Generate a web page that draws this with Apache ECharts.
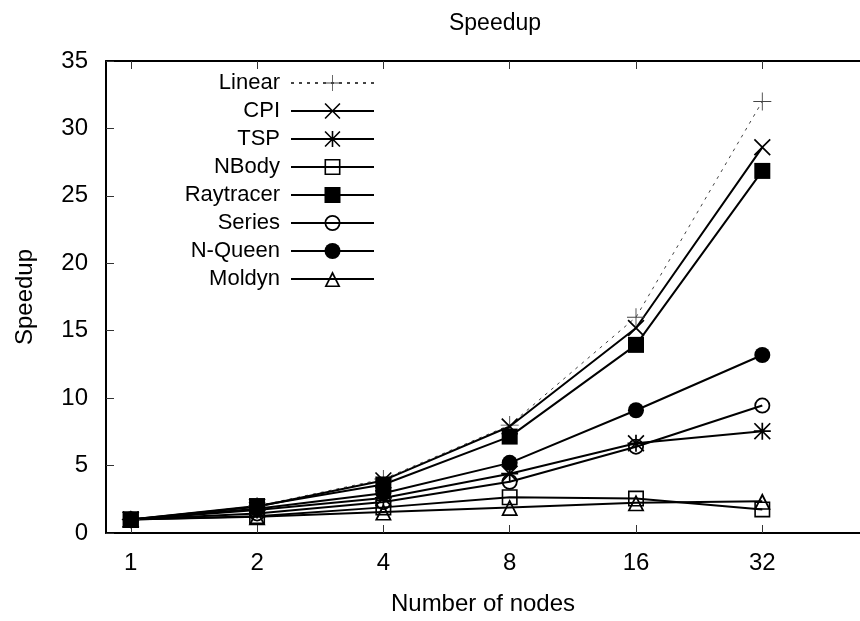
<!DOCTYPE html>
<html>
<head>
<meta charset="utf-8">
<title>Speedup</title>
<script src="https://cdn.jsdelivr.net/npm/echarts@6/dist/echarts.min.js"></script>
<style>
  html, body { margin: 0; padding: 0; background: #fff; }
  #chart { width: 860px; height: 621px; }
</style>
</head>
<body>
<div id="chart"></div>
<script>
// number of nodes (x) and measured speedup per benchmark
const nodes = [1, 2, 4, 8, 16, 32]
const linear = [1, 2, 4, 8, 16, 32]
const cpi = [1, 1.95, 3.9, 7.9, 15.2, 28.6]
const tsp = [1, 1.7, 2.6, 4.4, 6.65, 7.55]
const nbody = [1, 1.25, 1.9, 2.65, 2.55, 1.75]
const raytracer = [1, 2.0, 3.6, 7.15, 13.95, 26.85]
const seriesBench = [1, 1.45, 2.3, 3.8, 6.4, 9.45]
const nqueen = [1, 1.8, 2.95, 5.2, 9.1, 13.2]
const moldyn = [1, 1.2, 1.55, 1.9, 2.25, 2.35]
const yTicks = [0, 5, 10, 15, 20, 25, 30, 35]

const font = '"Liberation Sans", Arial, Helvetica, sans-serif'
const fontSize = 24

// gnuplot-like point types
const sym = {
  plus: 'path://M9.5,0H10.5V9.5H20V10.5H10.5V20H9.5V10.5H0V9.5H9.5Z',
  cross: 'path://M0,1.4L1.4,0L10,8.6L18.6,0L20,1.4L11.4,10L20,18.6L18.6,20L10,11.4L1.4,20L0,18.6L8.6,10Z',
  star: 'path://M0,1.4L1.4,0L10,8.6L18.6,0L20,1.4L11.4,10L20,18.6L18.6,20L10,11.4L1.4,20L0,18.6L8.6,10Z' +
    'M9,0H11V20H9Z M0,9H20V11H0Z',
  box: 'path://M0,0H20V20H0Z M2,2V18H18V2Z',
  boxFilled: 'rect',
  circle: 'path://M0,10A10,10,0,1,1,20,10A10,10,0,1,1,0,10Z M2.2,10A7.8,7.8,0,1,0,17.8,10A7.8,7.8,0,1,0,2.2,10Z',
  circleFilled: 'circle',
  triangle: 'path://M10,0L20,18L0,18Z M10,4.4L3.3,16.4L16.7,16.4Z'
}

function makeSeries(name, values, symbol, opts) {
  opts = opts || {}
  return {
    name: name,
    type: 'line',
    data: nodes.map((n, i) => [n, values[i]]),
    symbol: symbol,
    symbolSize: opts.size || 16,
    showAllSymbol: true,
    animation: false,
    lineStyle: {
      color: opts.color || '#000',
      width: opts.width || 2,
      type: opts.dash || 'solid'
    },
    itemStyle: { color: opts.color || '#000' },
    emphasis: { disabled: true }
  }
}

const chart = echarts.init(document.getElementById('chart'))

const xBase = {
  type: 'log',
  logBase: 2,
  min: 0.873,
  max: 54.7,
  splitLine: { show: false },
  axisLine: { show: true, lineStyle: { color: '#000', width: 2 } },
  axisTick: { inside: true, length: 8, customValues: nodes, lineStyle: { color: '#333', width: 1 } }
}

chart.setOption({
  backgroundColor: '#fff',
  title: {
    text: 'Speedup',
    left: 490,
    top: 7,
    textAlign: 'center',
    textStyle: { fontFamily: font, fontSize: 23, fontWeight: 'normal', color: '#000' }
  },
  legend: {
    orient: 'vertical',
    align: 'right',
    right: 480,
    top: 64,
    itemWidth: 83,
    itemHeight: 20,
    itemGap: 0,
    selectedMode: false,
    textStyle: { fontFamily: font, fontSize: 22, lineHeight: 28, color: '#000', padding: [0, 6, 0, 0] }
  },
  grid: {
    left: 106,
    top: 61,
    bottom: 84,
    width: 760,
    containLabel: false
  },
  xAxis: [
    Object.assign({}, xBase, {
      position: 'bottom',
      name: 'Number of nodes',
      nameLocation: 'middle',
      nameGap: 59,
      nameTextStyle: { fontFamily: font, fontSize: fontSize, color: '#000' },
      axisLabel: {
        customValues: nodes,
        margin: 18,
        fontFamily: font,
        fontSize: fontSize,
        color: '#000',
        formatter: v => String(Math.round(v))
      }
    }),
    Object.assign({}, xBase, {
      position: 'top',
      axisLabel: { show: false }
    })
  ],
  yAxis: {
    type: 'value',
    min: 0,
    max: 35,
    interval: 5,
    name: 'Speedup',
    nameLocation: 'middle',
    nameGap: 69,
    nameTextStyle: { fontFamily: font, fontSize: fontSize, color: '#000' },
    splitLine: { show: false },
    axisLine: { show: true, lineStyle: { color: '#000', width: 2 } },
    axisTick: { inside: true, length: 8, lineStyle: { color: '#333', width: 1 } },
    axisLabel: {
      margin: 18,
      fontFamily: font,
      fontSize: fontSize,
      color: '#000',
      customValues: yTicks
    }
  },
  series: [
    makeSeries('Linear', linear, sym.plus, { color: '#444', width: 1, dash: [3, 5], size: 18 }),
    makeSeries('CPI', cpi, sym.cross, { size: 17 }),
    makeSeries('TSP', tsp, sym.star, { size: 17 }),
    makeSeries('NBody', nbody, sym.box, { size: 16 }),
    makeSeries('Raytracer', raytracer, sym.boxFilled, { size: 16 }),
    makeSeries('Series', seriesBench, sym.circle, { size: 16 }),
    makeSeries('N-Queen', nqueen, sym.circleFilled, { size: 16 }),
    makeSeries('Moldyn', moldyn, sym.triangle, { size: 17 })
  ]
})
</script>
</body>
</html>
